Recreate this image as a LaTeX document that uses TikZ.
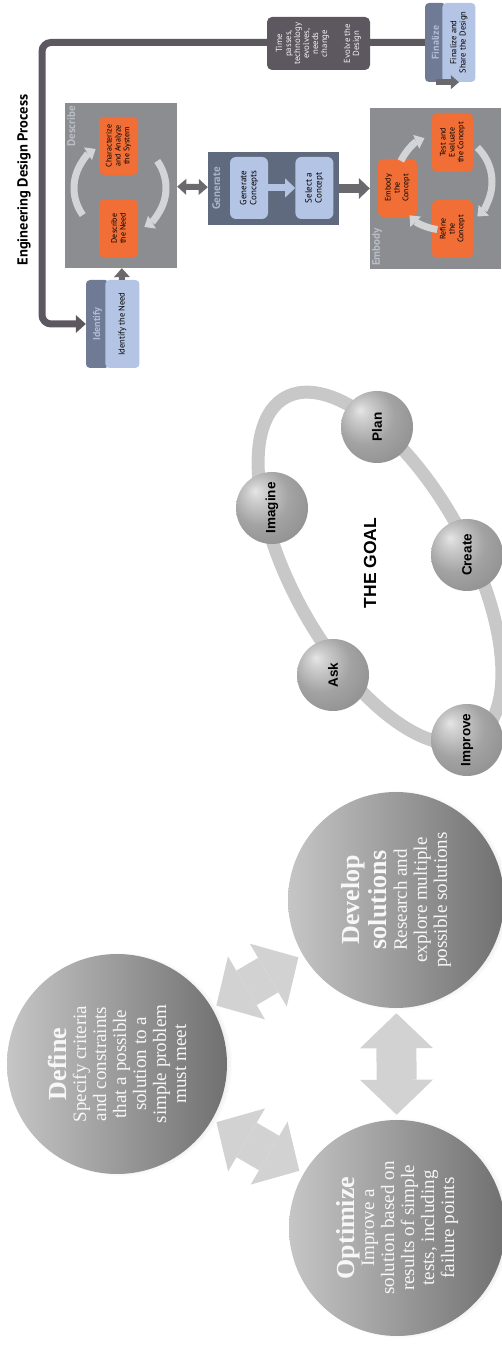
\documentclass[tikz,border=0pt]{standalone}
\usepackage{fontspec}
\setmainfont{Liberation Serif}
\newfontfamily\edpfont{PT Sans}
\newfontfamily\goalfont{Liberation Sans}
\usepackage{tikz}
\usetikzlibrary{positioning, shapes.geometric, arrows.meta, shadows}

\definecolor{edporange}{RGB}{241,110,54}
\definecolor{edpgray}{RGB}{139,141,144}
\definecolor{edpslate}{RGB}{95,106,127}
\definecolor{edplight}{RGB}{180,196,228}
\definecolor{edphead}{RGB}{111,123,149}
\definecolor{edpheadtext}{RGB}{176,188,214}
\definecolor{edploop}{RGB}{93,87,96}
\definecolor{edparrow}{RGB}{106,106,110}
\definecolor{edpring}{RGB}{211,212,214}
\definecolor{edplabel}{RGB}{186,190,197}
\definecolor{genlabel}{RGB}{170,181,204}
\definecolor{ringgray}{RGB}{200,200,200}
\definecolor{twowaygray}{RGB}{210,210,210}

\pgfdeclareradialshading{goalshade}{\pgfpoint{-12bp}{12bp}}{%
  color(0bp)=(gray!20); color(6bp)=(gray!38); color(20bp)=(gray!72);
  color(36bp)=(gray!88); color(62bp)=(gray!95!black)}

\newcommand{\circletitle}{\fontsize{26}{27}\selectfont\bfseries}

\tikzstyle{bigcircle} = [circle, minimum size=216pt, inner sep=0pt, left color=gray!45, right color=gray!88!black, text=white!94!gray, align=center, font=\fontsize{19}{20}\selectfont, circular drop shadow={shadow xshift=3pt, shadow yshift=0pt, shadow scale=1.02, opacity=0.35}]
\tikzstyle{twoway} = [draw=twowaygray, line width=40pt, {Triangle[width=73pt,length=35pt,line width=0pt]}-{Triangle[width=73pt,length=35pt,line width=0pt]}, shorten <=5pt, shorten >=5pt]
\tikzstyle{goalring} = [draw=ringgray, line width=13pt]
\tikzstyle{goalball} = [circle, minimum size=72pt, inner sep=0pt, shading=goalshade, font=\goalfont\bfseries\fontsize{13.5}{14}\selectfont]
\tikzstyle{group} = [rectangle, fill=edpgray, inner sep=0pt]
\tikzstyle{grouplabel} = [inner sep=0pt, font=\edpfont\bfseries\fontsize{11}{12}\selectfont, text=edplabel]
\tikzstyle{task} = [rectangle, rounded corners=5pt, fill=edporange, align=center, inner sep=0pt, minimum width=58pt, minimum height=39pt, font=\edpfont\fontsize{8}{8.8}\selectfont]
\tikzstyle{concept} = [rectangle, rounded corners=6pt, fill=edplight, align=center, inner sep=0pt, minimum width=62pt, minimum height=38pt, font=\edpfont\fontsize{9}{10}\selectfont]
\tikzstyle{cardhead} = [rectangle, rounded corners=4pt, fill=edphead, text=edpheadtext, inner sep=0pt, font=\edpfont\bfseries\fontsize{10}{11}\selectfont]
\tikzstyle{cardbody} = [rectangle, rounded corners=4pt, fill=edplight, align=center, inner sep=0pt, font=\edpfont\fontsize{8.5}{9.3}\selectfont]
\tikzstyle{timecard} = [rectangle, rounded corners=5pt, fill=edploop, text=white!90!gray, align=center, inner sep=0pt, minimum width=53pt, minimum height=103pt, font=\edpfont\fontsize{8.8}{9}\selectfont]
\tikzstyle{ringarrow} = [draw=edpring, line width=7pt, -{Triangle[width=15pt,length=9pt,line width=0pt]}]
\tikzstyle{blockarrow} = [draw=edparrow, line width=6pt, -{Triangle[width=16pt,length=9pt,line width=0pt]}]
\tikzstyle{loopline} = [draw=edploop, line width=7pt, rounded corners=9pt, -{Triangle[width=18pt,length=10pt,line width=0pt]}]

\begin{document}
\begin{tikzpicture}[x=1pt, y=-1pt]
\begin{scope}[rotate=90, transform shape]
    \useasboundingbox (0,0) rectangle (1348,502);
    % Define / develop / optimize
    \node (define) [bigcircle, minimum size=220pt] at (284,117) {{\circletitle Define}\\Specify criteria\\and constraints\\that a possible\\solution to a\\simple problem\\must meet};
    \node (develop) [bigcircle] at (448,396) {{\circletitle Develop}\\[3pt]{\circletitle solutions}\\Research and\\explore multiple\\possible solutions};
    \node (optimize) [bigcircle] at (120,397) {{\circletitle Optimize}\\Improve a\\solution based on\\results of simple\\tests, including\\failure points};
    \draw [twoway] (define) -- (develop);
    \draw [twoway] (define) -- (optimize);
    \draw [twoway] (optimize) -- (develop);
    % The goal
    \coordinate (goalcentre) at (780,380);
    \draw [goalring, rotate around={29:(goalcentre)}] (goalcentre) ellipse [x radius=195pt, y radius=88pt];
    \node (goal) [font=\goalfont\bfseries\fontsize{17.5}{18}\selectfont] at (785,370) {THE GOAL};
    \node (plan) [goalball] at (921,377) {Plan};
    \node (imagine) [goalball] at (840,272) {Imagine};
    \node (create) [goalball] at (793,467) {Create};
    \node (ask) [goalball] at (673,333) {Ask};
    \node (improve) [goalball] at (608,467) {Improve};
    % Engineering design process
    \node (title) [font=\edpfont\bfseries\fontsize{14.5}{16}\selectfont] at (1168,24) {Engineering Design Process};
    \node (describe) [group, minimum width=165pt, minimum height=112pt] at (1162.5,121) {};
    \node (generate) [group, fill=edpslate, minimum width=73pt, minimum height=131pt] at (1159.5,273.5) {};
    \node (embody) [group, minimum width=161pt, minimum height=131pt] at (1159.5,435.5) {};
    \node (describelabel) [grouplabel, anchor=north east] at (1242,67) {Describe};
    \node (generatelabel) [grouplabel, text=genlabel, anchor=north] at (1159.5,212) {Generate};
    \node (embodylabel) [grouplabel, anchor=north west] at (1082,372) {Embody};
    \node (describeneed) [task] at (1119.5,118.5) {Describe\\the Need};
    \node (characterize) [task] at (1202,118.5) {Characterize\\and Analyze\\the System};
    \node (genconcepts) [concept] at (1160,249) {Generate\\Concepts};
    \node (selectconcept) [concept, below=27pt of genconcepts] {Select a\\Concept};
    \node (embodyconcept) [task] at (1160,397.5) {Embody\\the\\Concept};
    \node (testconcept) [task, minimum width=59pt, minimum height=41pt] at (1205.5,452.5) {Test and\\Evaluate\\the Concept};
    \node (refineconcept) [task, minimum height=41pt] at (1119,452.5) {Refine\\the\\Concept};
    \node (identifyhead) [cardhead, minimum width=88pt, minimum height=23pt] at (1024,97.5) {Identify};
    \node (identify) [cardbody, minimum width=88pt, minimum height=34pt, below=-4pt of identifyhead] {Identify the Need};
    \node (finalizehead) [cardhead, minimum width=79pt, minimum height=21pt] at (1305.5,435.5) {Finalize};
    \node (finalize) [cardbody, minimum width=79pt, minimum height=33pt, below=-4pt of finalizehead] {Finalize and\\Share the Design};
    % Cycles inside the groups
    \coordinate (describering) at (1160,120);
    \draw [ringarrow] (describering) ++(126:46pt) arc[start angle=126, end angle=32, radius=46pt];
    \draw [ringarrow] (describering) ++(-54:46pt) arc[start angle=-54, end angle=-148, radius=46pt];
    \coordinate (embodyring) at (1166,444);
    \draw [ringarrow] (embodyring) ++(64:48pt) arc[start angle=64, end angle=24, radius=48pt];
    \draw [ringarrow] (embodyring) ++(-44:48pt) arc[start angle=-44, end angle=-136, radius=48pt];
    \draw [ringarrow] (embodyring) ++(172:48pt) arc[start angle=172, end angle=134, radius=48pt];
    % Arrows
    \draw [blockarrow] (identify) -- (describe);
    \draw [blockarrow, {Triangle[width=16pt,length=9pt,line width=0pt]}-{Triangle[width=16pt,length=9pt,line width=0pt]}] (describe) -- (generate);
    \draw [blockarrow, draw=edplight, line width=7pt, -{Triangle[width=19pt,length=10pt,line width=0pt]}] (genconcepts) -- (selectconcept);
    \draw [blockarrow, line width=9pt, -{Triangle[width=21pt,length=11pt,line width=0pt]}] (generate) -- (embody);
    \draw [blockarrow, -{Triangle[width=14pt,length=8pt,line width=0pt]}] (finalize.west |- embody.east) -- (finalize.west);
    \coordinate (loopright) at (1305.5,42);
    \coordinate (loopleft) at (1024,42);
    \draw [loopline] (finalizehead.north) -- (loopright) -- (loopleft) -- (identifyhead.north);
    \node (evolve) [timecard] at (1304.5,318.5) {Time\\passes,\\technology\\evolves,\\needs\\change\\[14pt]Evolve the\\Design};
\end{scope}
\end{tikzpicture}
\end{document}
